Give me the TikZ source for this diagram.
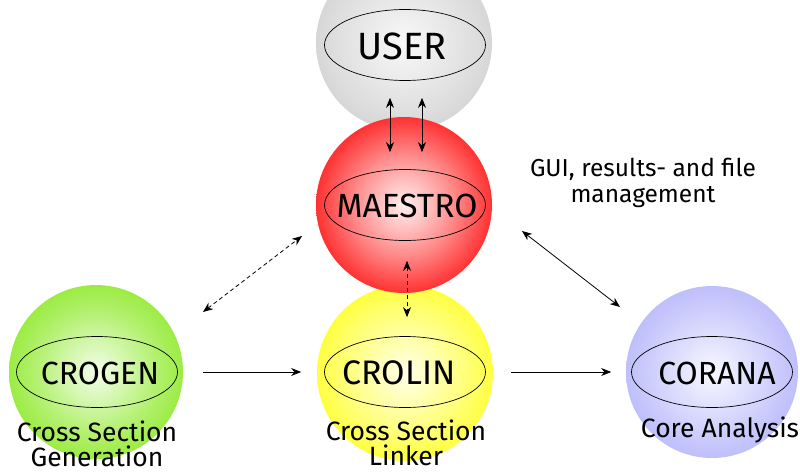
\documentclass[tikz,border=0pt]{standalone}
\usepackage{fontspec}
\setmainfont{Fira Sans}
\usetikzlibrary{shapes.geometric,arrows.meta}
\definecolor{greyedge}{RGB}{190,190,190}
\definecolor{rededge}{RGB}{255,0,0}
\definecolor{yellowedge}{RGB}{255,255,0}
\definecolor{greenedge}{RGB}{125,230,10}
\definecolor{blueedge}{RGB}{165,165,250}
\pgfdeclareradialshading{ballgrey}{\pgfpoint{0bp}{0bp}}{color(0bp)=(greyedge!10!white); color(22bp)=(greyedge!55!white); color(40bp)=(greyedge); color(50bp)=(greyedge)}
\pgfdeclareradialshading{ballred}{\pgfpoint{0bp}{0bp}}{color(0bp)=(rededge!6!white); color(14bp)=(rededge!45!white); color(31bp)=(rededge); color(50bp)=(rededge)}
\pgfdeclareradialshading{ballyellow}{\pgfpoint{0bp}{0bp}}{color(0bp)=(yellowedge!8!white); color(18bp)=(yellowedge!55!white); color(34bp)=(yellowedge); color(50bp)=(yellowedge)}
\pgfdeclareradialshading{ballgreen}{\pgfpoint{0bp}{0bp}}{color(0bp)=(greenedge!8!white); color(18bp)=(greenedge!60!white); color(35bp)=(greenedge); color(50bp)=(greenedge)}
\pgfdeclareradialshading{ballblue}{\pgfpoint{0bp}{0bp}}{color(0bp)=(blueedge!8!white); color(20bp)=(blueedge!60!white); color(37bp)=(blueedge); color(50bp)=(blueedge)}
\tikzset{
  sphere/.style={circle, minimum size=176pt, inner sep=0pt, shading=#1},
  ring/.style={ellipse, draw=black, line width=0.7pt, minimum width=161pt, minimum height=71pt, inner sep=0pt},
  big/.style={font=\fontsize{32}{32}\selectfont},
  captxt/.style={align=center, anchor=base, font=\fontsize{26.5}{25}\selectfont},
  arr/.style={line width=0.8pt, {Stealth[length=10pt,width=8pt]}-{Stealth[length=10pt,width=8pt]}},
  onearr/.style={line width=0.8pt, -{Stealth[length=10pt,width=8pt]}},
  darr/.style={arr, dash pattern=on 4pt off 3pt},
}
\begin{document}
\begin{tikzpicture}[x=1pt,y=-1pt]
\useasboundingbox (0,0) rectangle (800,473);
\clip (0,0) rectangle (800,473);
% spheres
\node[sphere=ballgrey] (userS) at (404,43) {};
\node[sphere=ballyellow] (crolinS) at (405,373) {};
\node[sphere=ballred] (maestroS) at (404,205) {};
\node[sphere=ballgreen, minimum size=174pt] (crogenS) at (96,372) {};
\node[sphere=ballblue, minimum size=172pt] (coranaS) at (712,372) {};
% ellipses
\node[ring] (userE) at (405,45) {};
\node[ring] (maestroE) at (405,205) {};
\node[ring] (crogenE) at (97,372) {};
\node[ring] (crolinE) at (405,372) {};
\node[ring] (coranaE) at (712,372) {};
% names
\node[big, font=\fontsize{38}{38}\selectfont] (userT) at (402,46) {USER};
\node[big, font=\fontsize{33.5}{33}\selectfont] (maestroT) at (407,206) {MAESTRO};
\node[big] (crogenT) at (100,373) {CROGEN};
\node[big, font=\fontsize{34}{34}\selectfont] (crolinT) at (399,373) {CROLIN};
\node[big] (coranaT) at (717,373) {CORANA};
% captions
\node[captxt] (capGen) at (97,466) {Cross Section\\Generation};
\node[captxt] (capLin) at (406,465) {Cross Section\\Linker};
\node[captxt] (capCor) at (720,437) {Core Analysis};
\node[captxt, font=\fontsize{24.5}{26}\selectfont] (capGui) at (643,203) {GUI, results- and file\\management};
% connectors
\draw[arr, shorten <=17pt, shorten >=17pt] ([xshift=-15pt]userE.south) -- ([xshift=-15pt]maestroE.north);
\draw[arr, shorten <=17pt, shorten >=17pt] ([xshift=17pt]userE.south) -- ([xshift=17pt]maestroE.north);
\draw[darr, shorten <=20pt, shorten >=19pt] ([xshift=2pt]maestroE.south) -- ([xshift=2pt]crolinE.north);
\draw[onearr, shorten <=25pt, shorten >=23pt] (crogenE.east) -- (crolinE.west);
\draw[onearr, shorten <=25pt, shorten >=20pt] (crolinE.east) -- (coranaE.west);
\coordinate (dA) at (203,312);
\coordinate (dB) at (302,236);
\draw[darr] (dA) -- (dB);
\coordinate (sA) at (522,231);
\coordinate (sB) at (620,307);
\draw[arr] (sA) -- (sB);
\end{tikzpicture}
\end{document}
